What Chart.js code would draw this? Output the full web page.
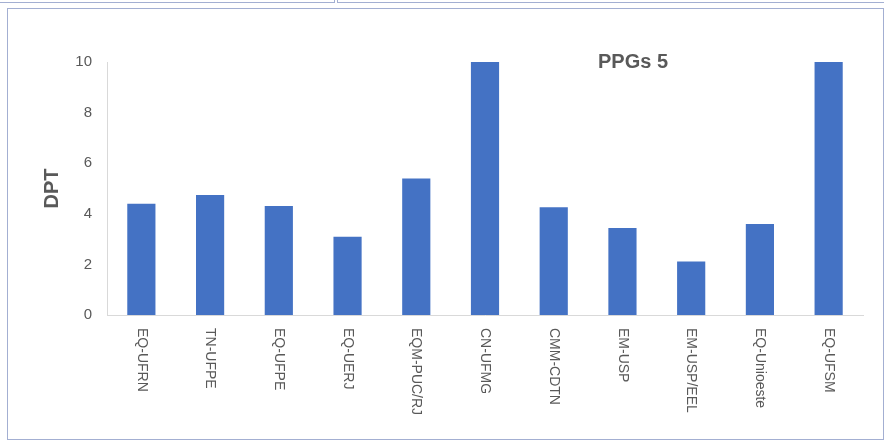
<!DOCTYPE html>
<html>
<head>
<meta charset="utf-8">
<script src="https://cdn.jsdelivr.net/npm/chart.js@4"></script>
<style>
  body { margin: 0; background: #fff; width: 884px; height: 441px; overflow: hidden; position: relative; font-family: "Liberation Sans", Arial, sans-serif; }
  .frame { position: absolute; border: 1px solid #a3afd2; box-sizing: border-box; }
  #wrap { position: absolute; left: 0; top: 0; width: 884px; height: 441px; }
  #title { position: absolute; left: 598px; top: 50px; font-size: 20px; font-weight: bold; color: #595959; }
</style>
</head>
<body>
<div class="frame" style="left:-2px; top:-4px; width:337px; height:7px;"></div>
<div class="frame" style="left:337px; top:-4px; width:550px; height:7px;"></div>
<div class="frame" style="left:7px; top:8px; width:877px; height:432px;"></div>
<div id="wrap"><canvas id="chart"></canvas></div>
<div id="title">PPGs 5</div>
<script>
const categories = ['EQ-UFRN', 'TN-UFPE', 'EQ-UFPE', 'EQ-UERJ', 'EQM-PUC/RJ', 'CN-UFMG',
    'CMM-CDTN', 'EM-USP', 'EM-USP/EEL', 'EQ-Unioeste', 'EQ-UFSM'];
const dptValues = [4.4, 4.74, 4.31, 3.09, 5.4, 10, 4.26, 3.44, 2.11, 3.6, 10];
const yTicks = [0, 2, 4, 6, 8, 10];

// labels run top to bottom under each bar
const verticalLabels = {
    id: 'verticalLabels',
    afterDraw(chart) {
        const ctx = chart.ctx;
        const xScale = chart.scales.x;
        ctx.save();
        ctx.font = '14px "Liberation Sans", Arial, sans-serif';
        ctx.fillStyle = '#595959';
        ctx.textAlign = 'left';
        ctx.textBaseline = 'middle';
        categories.forEach((label, i) => {
            const x = xScale.getPixelForTick(i);
            ctx.save();
            ctx.translate(x, chart.chartArea.bottom + 13);
            ctx.rotate(Math.PI / 2);
            ctx.fillText(label, 0, 0);
            ctx.restore();
        });
        ctx.restore();
    }
};

new Chart(document.getElementById('chart'), {
    type: 'bar',
    data: {
        labels: categories,
        datasets: [{
            label: 'DPT',
            data: dptValues,
            backgroundColor: '#4472C4',
            barPercentage: 0.41,
            categoryPercentage: 1
        }]
    },
    options: {
        responsive: true,
        maintainAspectRatio: false,
        animation: false,
        layout: { padding: { left: 0, top: 62, right: 21, bottom: 126 } },
        plugins: { legend: { display: false }, tooltip: { enabled: false } },
        scales: {
            x: {
                grid: { display: false },
                border: { color: '#d9d9d9', width: 1 },
                ticks: { display: false },
                afterFit: scale => { scale.height = 0; }
            },
            y: {
                min: 0,
                max: 10,
                afterBuildTicks: scale => { scale.ticks = yTicks.map(v => ({ value: v })); },
                afterFit: scale => { scale.width = 107; },
                grid: { display: false, drawTicks: false },
                border: { display: true, color: '#d9d9d9', width: 1 },
                ticks: {
                    padding: 15,
                    color: '#595959',
                    font: { family: '"Liberation Sans", Arial, sans-serif', size: 15 }
                },
                title: {
                    display: true,
                    text: 'DPT',
                    color: '#595959',
                    padding: { top: 40 },
                    font: { family: '"Liberation Sans", Arial, sans-serif', size: 20, weight: 'bold' }
                }
            }
        }
    },
    plugins: [verticalLabels]
});
</script>
</body>
</html>
